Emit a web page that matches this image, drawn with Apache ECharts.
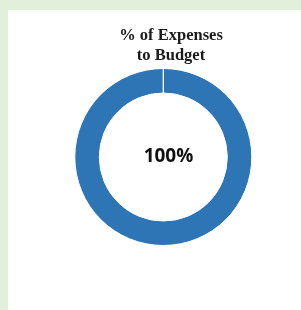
<!DOCTYPE html>
<html>
<head>
<meta charset="utf-8">
<script src="https://cdn.jsdelivr.net/npm/echarts@6/dist/echarts.min.js"></script>
<style>
  html, body { margin: 0; padding: 0; background: #e2efda; }
  #chart { position: absolute; left: 8px; top: 10px; width: 293px; height: 300px; background: #fff; }
</style>
</head>
<body>
<div id="chart"></div>
<script>
// data
var sliceNames = ['Expenses', 'Remaining'];
var sliceValues = [100, 0];
var centerLabel = '100%';
var titleText = '% of Expenses\nto Budget';

var myChart = echarts.init(document.getElementById('chart'));
var option = {
  animation: false,
  title: {
    text: titleText,
    left: 163,
    top: 15,
    padding: 0,
    textAlign: 'center',
    textStyle: {
      fontFamily: 'Liberation Serif',
      fontWeight: 'bold',
      fontSize: 16.5,
      lineHeight: 20.5,
      color: '#1a1a1a'
    }
  },
  graphic: [{
    type: 'text',
    x: 160.5,
    y: 146.5,
    style: {
      text: centerLabel,
      font: 'bold 19px "Open Sans"',
      fill: '#111',
      align: 'center',
      verticalAlign: 'middle'
    }
  }],
  series: [{
    type: 'pie',
    center: [155.3, 147],
    radius: [64, 88.5],
    startAngle: 90,
    clockwise: true,
    label: { show: false },
    labelLine: { show: false },
    silent: true,
    itemStyle: { color: '#2e75b6', borderColor: '#fff', borderWidth: 1 },
    data: sliceNames.map(function (n, i) { return { name: n, value: sliceValues[i] }; })
  }]
};
myChart.setOption(option);
</script>
</body>
</html>
